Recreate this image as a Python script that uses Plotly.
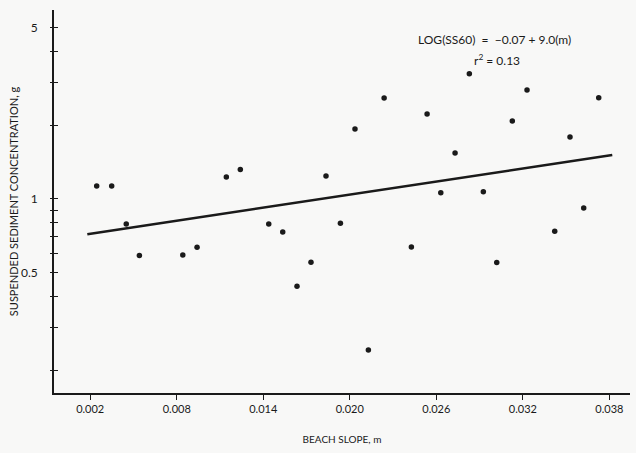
import plotly.graph_objects as go

# Beach slope (m) and suspended sediment concentration (g/l)
slope = [0.00245, 0.00349, 0.00450, 0.00541, 0.00842, 0.00941, 0.01144, 0.01241,
         0.01438, 0.01535, 0.01634, 0.01731, 0.01835, 0.01935, 0.02036, 0.02129,
         0.02238, 0.02427, 0.02536, 0.02631, 0.02730, 0.02829, 0.02926, 0.03019,
         0.03127, 0.03229, 0.03421, 0.03527, 0.03622, 0.03726]
conc = [1.13, 1.13, 0.79, 0.587, 0.59, 0.635, 1.23, 1.32,
        0.79, 0.733, 0.44, 0.551, 1.24, 0.796, 1.93, 0.242,
        2.58, 0.637, 2.22, 1.06, 1.54, 3.24, 1.07, 0.55,
        2.08, 2.78, 0.738, 1.79, 0.919, 2.59]

# Regression line end points
fit_x = [0.0018, 0.0382]
fit_y = [0.718, 1.51]

x_ticks = [0.002, 0.008, 0.014, 0.020, 0.026, 0.032, 0.038]
x_labels = ["0.002", "0.008", "0.014", "0.020", "0.026", "0.032", "0.038"]
y_label_vals = [0.5, 1, 5]
y_labels = ["0.5", "1", "5"]
y_minor_ticks = [0.2, 0.3, 0.4, 0.5, 0.6, 0.7, 0.8, 0.9, 1, 2, 3, 4, 5]

FONT = "Lato, Open Sans, sans-serif"
INK = "#1a1a1a"
BG = "#f8f8f7"
Y_RANGE = [-0.792, 0.771]
X_RANGE = [-0.00051, 0.03943]

fig = go.Figure()
fig.add_trace(go.Scatter(x=fit_x, y=fit_y, mode="lines",
                         line=dict(color=INK, width=2.5), hoverinfo="skip",
                         showlegend=False))
fig.add_trace(go.Scatter(x=slope, y=conc, mode="markers",
                         marker=dict(color=INK, size=5.5), showlegend=False))
# transparent copy so that the overlay axis (outer half of the crossing ticks) is drawn
fig.add_trace(go.Scatter(x=fit_x, y=fit_y, mode="lines", yaxis="y2",
                         line=dict(color="rgba(0,0,0,0)", width=0),
                         hoverinfo="skip", showlegend=False))

fig.update_layout(
    width=636, height=453,
    margin=dict(l=54, r=6, t=10, b=60, autoexpand=False),
    paper_bgcolor=BG, plot_bgcolor=BG,
    font=dict(family=FONT, color=INK, size=11),
    xaxis=dict(range=X_RANGE, tickvals=x_ticks, ticktext=x_labels,
               automargin=False,
               showgrid=False, zeroline=False, showline=True,
               linecolor=INK, linewidth=1.5, ticks="outside", ticklen=5,
               tickcolor=INK, tickfont=dict(size=11, family=FONT),
               title=dict(text="BEACH SLOPE, m", font=dict(size=10, family=FONT),
                          standoff=22)),
    yaxis=dict(type="log", range=Y_RANGE, tickvals=y_label_vals, ticktext=y_labels,
               automargin=False,
               showgrid=False, zeroline=False, showline=True,
               linecolor=INK, linewidth=1.8, ticks="inside", ticklen=4,
               tickcolor=INK, tickwidth=1.2, ticklabelstandoff=12,
               minor=dict(tickvals=y_minor_ticks, ticks="inside", ticklen=4,
                          tickcolor=INK, tickwidth=1.2, showgrid=False),
               tickfont=dict(size=12, family=FONT),
               title=dict(text="SUSPENDED SEDIMENT CONCENTRATION, g",
                          font=dict(size=11, family=FONT), standoff=0)),
    yaxis2=dict(type="log", range=Y_RANGE, overlaying="y", side="left",
                automargin=False,
                tickvals=y_minor_ticks, showticklabels=False, showgrid=False,
                zeroline=False, showline=False, ticks="outside", ticklen=3,
                tickcolor=INK, tickwidth=1.2),
)

fig.add_annotation(xref="paper", yref="paper", x=0.628, y=0.922,
                   xanchor="left", yanchor="middle", showarrow=False,
                   text="LOG(SS60)  =  −0.07 + 9.0(m)",
                   font=dict(size=12, family=FONT, color=INK))
fig.add_annotation(xref="paper", yref="paper", x=0.725, y=0.870,
                   xanchor="left", yanchor="middle", showarrow=False,
                   text="r<sup>2</sup> = 0.13",
                   font=dict(size=12, family=FONT, color=INK))

fig.write_html("out.html", config={"displayModeBar": False},
               post_script="document.body.style.margin='0';document.body.style.padding='0';")
